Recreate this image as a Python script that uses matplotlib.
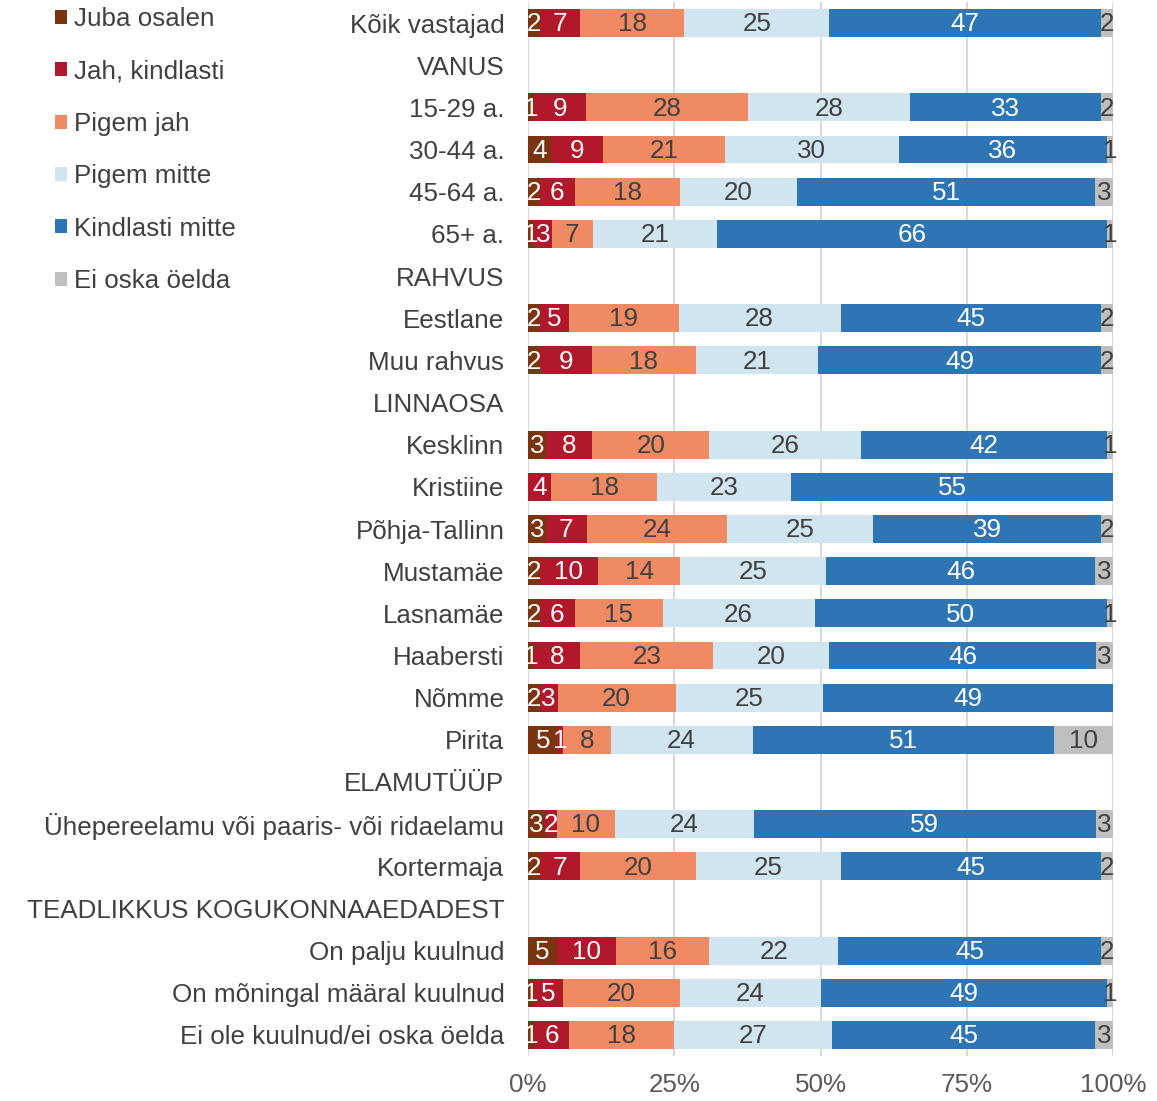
import matplotlib
matplotlib.use("Agg")
import matplotlib.pyplot as plt
import numpy as np

plt.rcParams['font.family'] = ['Liberation Sans', 'DejaVu Sans']

# rows top to bottom; None marks a group header row with no bar
rows = ["Kõik vastajad", "VANUS", "15-29 a.", "30-44 a.", "45-64 a.", "65+ a.",
        "RAHVUS", "Eestlane", "Muu rahvus", "LINNAOSA", "Kesklinn", "Kristiine",
        "Põhja-Tallinn", "Mustamäe", "Lasnamäe", "Haabersti", "Nõmme", "Pirita",
        "ELAMUTÜÜP", "Ühepereelamu või paaris- või ridaelamu", "Kortermaja",
        "TEADLIKKUS KOGUKONNAAEDADEST", "On palju kuulnud",
        "On mõningal määral kuulnud", "Ei ole kuulnud/ei oska öelda"]

series = ["Juba osalen", "Jah, kindlasti", "Pigem jah", "Pigem mitte",
          "Kindlasti mitte", "Ei oska öelda"]

values = [
    [2, 7, 18, 25, 47, 2],
    None,
    [1, 9, 28, 28, 33, 2],
    [4, 9, 21, 30, 36, 1],
    [2, 6, 18, 20, 51, 3],
    [1, 3, 7, 21, 66, 1],
    None,
    [2, 5, 19, 28, 45, 2],
    [2, 9, 18, 21, 49, 2],
    None,
    [3, 8, 20, 26, 42, 1],
    [0, 4, 18, 23, 55, 0],
    [3, 7, 24, 25, 39, 2],
    [2, 10, 14, 25, 46, 3],
    [2, 6, 15, 26, 50, 1],
    [1, 8, 23, 20, 46, 3],
    [2, 3, 20, 25, 49, 0],
    [5, 1, 8, 24, 51, 10],
    None,
    [3, 2, 10, 24, 59, 3],
    [2, 7, 20, 25, 45, 2],
    None,
    [5, 10, 16, 22, 45, 2],
    [1, 5, 20, 24, 49, 1],
    [1, 6, 18, 27, 45, 3],
]

colors = ["#7A3510", "#B2182B", "#EF8A62", "#D1E5F0", "#2E75B6", "#BFBFBF"]
text_colors = ["white", "white", "#404040", "#404040", "white", "#404040"]

fig = plt.figure(figsize=(11.57, 11.01), dpi=100)
ax = fig.add_axes([528 / 1157, 1 - 1056 / 1101, (1113 - 528) / 1157, (1056 - 2) / 1101])

fs = 18.7
n = len(rows)
y = np.arange(n)
handles = []
for j, name in enumerate(series):
    lefts, widths, ys = [], [], []
    for i, v in enumerate(values):
        if v is None:
            continue
        tot = float(sum(v))
        lefts.append(sum(v[:j]) / tot * 100)
        widths.append(v[j] / tot * 100)
        ys.append(i)
    b = ax.barh(ys, widths, left=lefts, height=0.66, color=colors[j], label=name, zorder=3)
    handles.append(b)
    for yy, l, w in zip(ys, lefts, widths):
        val = values[yy][j]
        if val > 0:
            ax.text(l + w / 2, yy + 0.03, str(val), ha="center", va="center",
                    color=text_colors[j], fontsize=fs, zorder=4)

ax.set_xlim(0, 100)
ax.set_ylim(n - 0.5, -0.5)
ax.set_yticks(y)
ax.set_yticklabels(rows, fontsize=fs, color="#404040")
ax.set_xticks([0, 25, 50, 75, 100])
ax.set_xticklabels(["0%", "25%", "50%", "75%", "100%"], fontsize=fs, color="#595959")
ax.tick_params(axis="both", length=0)
ax.tick_params(axis="y", pad=17)
ax.tick_params(axis="x", pad=12)
ax.grid(axis="x", color="#D9D9D9", linewidth=1.5, zorder=0)
for s in ax.spines.values():
    s.set_visible(False)

fig.legend(handles=handles, labels=series, loc="upper left",
           bbox_to_anchor=(32 / 1157, 1 + 16 / 1101), frameon=False, fontsize=fs,
           handlelength=0.45, handleheight=0.45, handletextpad=0.25,
           labelspacing=1.09, labelcolor="#404040")

fig.savefig("out.png", dpi=100)
